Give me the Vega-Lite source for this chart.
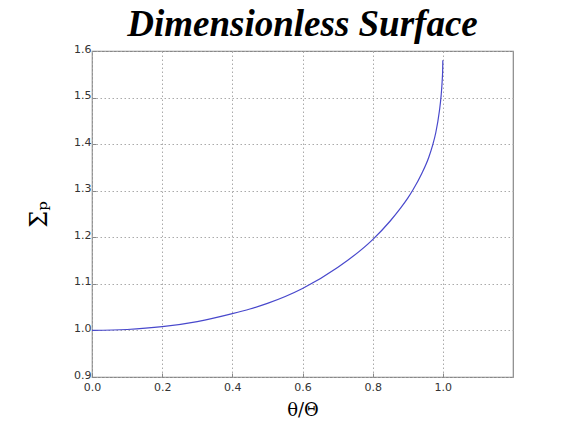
{
  "$schema": "https://vega.github.io/schema/vega-lite/v6.json",
  "width": 421,
  "height": 326,
  "autosize": {"type": "none"},
  "padding": {"left": 92, "top": 51, "right": 51, "bottom": 44},
  "background": "white",
  "title": {
    "text": "Dimensionless Surface",
    "font": "Liberation Serif",
    "fontSize": 37,
    "fontStyle": "italic",
    "fontWeight": "bold",
    "color": "black",
    "anchor": "middle",
    "frame": "group",
    "baseline": "alphabetic",
    "offset": -30
  },
  "data": {
    "values": [
      {"x": 0.0, "y": 1.0},
      {"x": 0.1, "y": 1.002},
      {"x": 0.2, "y": 1.008},
      {"x": 0.3, "y": 1.019},
      {"x": 0.4, "y": 1.036},
      {"x": 0.45, "y": 1.046},
      {"x": 0.5, "y": 1.058},
      {"x": 0.6, "y": 1.09},
      {"x": 0.7, "y": 1.135},
      {"x": 0.8, "y": 1.195},
      {"x": 0.85, "y": 1.235},
      {"x": 0.88, "y": 1.263},
      {"x": 0.9, "y": 1.284},
      {"x": 0.915, "y": 1.302},
      {"x": 0.94, "y": 1.337},
      {"x": 0.96, "y": 1.372},
      {"x": 0.971, "y": 1.398},
      {"x": 0.98, "y": 1.425},
      {"x": 0.99, "y": 1.47},
      {"x": 0.995, "y": 1.503},
      {"x": 0.998, "y": 1.534},
      {"x": 0.9995, "y": 1.558},
      {"x": 1.0, "y": 1.58}
    ]
  },
  "mark": {"type": "line", "color": "#4848cc", "strokeWidth": 1.2, "interpolate": "monotone"},
  "encoding": {
    "x": {
      "field": "x",
      "type": "quantitative",
      "scale": {"domain": [0, 1.2], "nice": false, "zero": false},
      "axis": {
        "values": [0, 0.2, 0.4, 0.6, 0.8, 1.0],
        "format": ".1f",
        "title": "θ/Θ",
        "titleFont": "DejaVu Serif",
        "titleFontSize": 18,
        "titleFontWeight": "normal",
        "titlePadding": 9,
        "labelPadding": 8,
        "labelFlush": false
      }
    },
    "y": {
      "field": "y",
      "type": "quantitative",
      "scale": {"domain": [0.9, 1.6], "nice": false, "zero": false},
      "axis": {
        "values": [0.9, 1.0, 1.1, 1.2, 1.3, 1.4, 1.5, 1.6],
        "format": ".1f",
        "title": "Σₚ",
        "titleFont": "DejaVu Serif",
        "titleFontSize": 24,
        "titleFontWeight": "normal",
        "titlePadding": 22,
        "labelPadding": 5,
        "labelFlush": false,
        "labelOffset": -2
      }
    }
  },
  "config": {
    "view": {"stroke": "#888888", "strokeWidth": 1.2},
    "axis": {
      "domain": false,
      "grid": true,
      "gridColor": "#aaaaaa",
      "gridDash": [1.5, 2.5],
      "gridWidth": 1,
      "ticks": true,
      "tickSize": -4,
      "tickColor": "#888888",
      "labelFont": "DejaVu Sans",
      "labelFontSize": 11,
      "labelColor": "#333333",
      "titleColor": "black"
    }
  }
}
